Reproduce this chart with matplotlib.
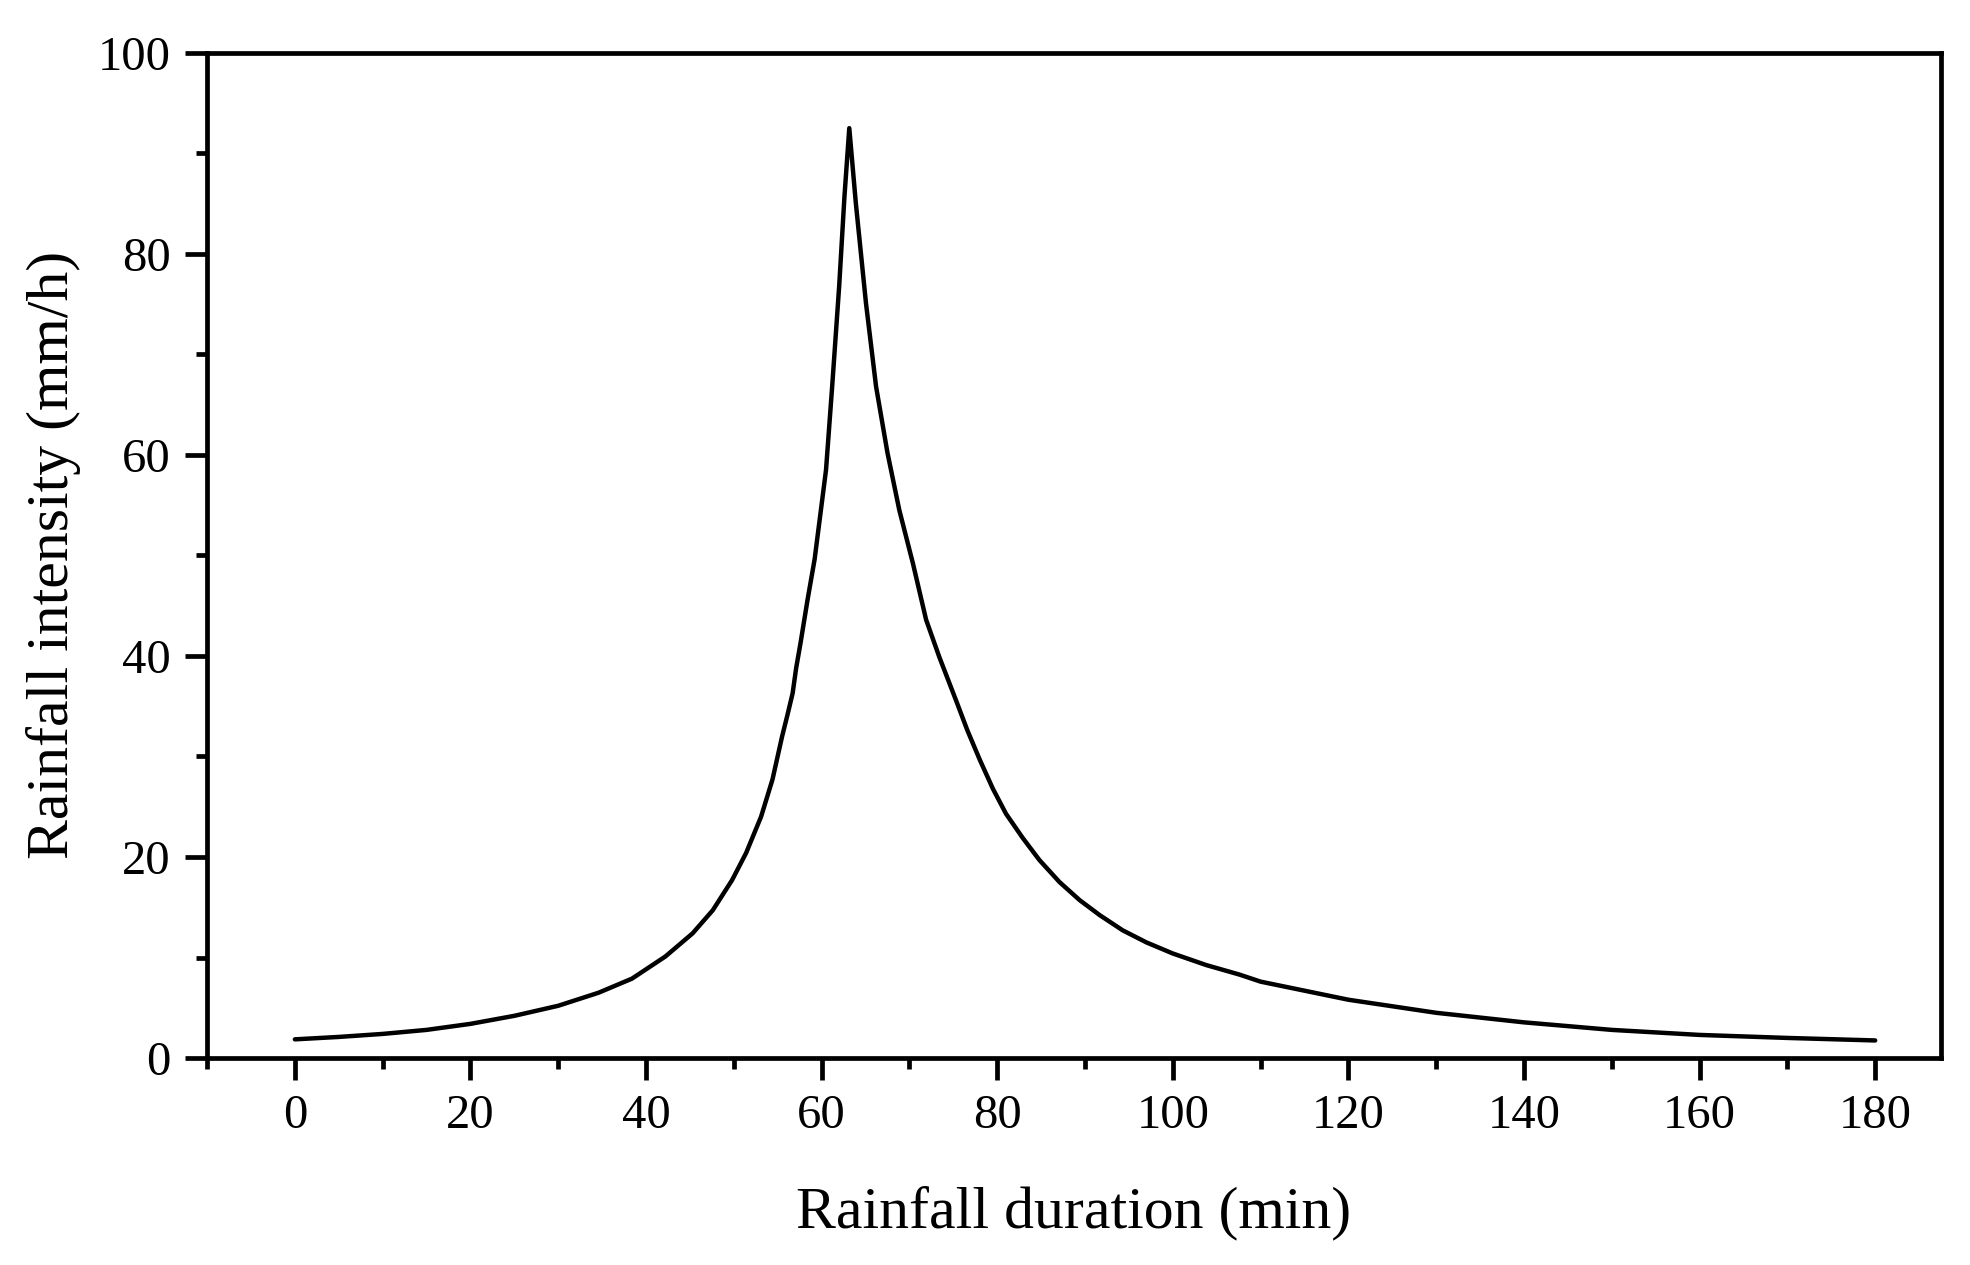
import matplotlib
matplotlib.use("Agg")
import matplotlib.pyplot as plt
from matplotlib.ticker import MultipleLocator

plt.rcParams['font.family'] = ['Liberation Serif', 'DejaVu Serif']

# Rainfall duration (min) and intensity (mm/h)
duration = [0, 5, 10, 15, 20, 25, 30, 34.6, 38.4, 42.2, 45.3, 47.6, 49.8, 51.4,
            53.1, 54.4, 55.5, 56.1, 56.7, 57.1, 57.6, 58.4, 59.2, 60.5, 61.2, 62.0, 62.6, 63.15,
            63.9, 65.05, 66.2, 67.5, 68.85, 70.4, 71.9, 73.4, 75.3, 76.6, 78.0, 79.5, 81.0,
            82.9, 84.8, 87.1, 89.4, 91.7, 94.3, 97.0, 100.0, 103.8, 107.6, 110, 120, 130,
            140, 150, 160, 170, 180]
intensity = [1.86, 2.1, 2.4, 2.8, 3.4, 4.2, 5.2, 6.5, 7.9, 10.1, 12.4, 14.7, 17.7, 20.4,
             24.0, 27.7, 32.0, 34.1, 36.3, 38.8, 41.3, 45.6, 49.6, 58.5, 66.8, 76.8, 85.7, 92.5,
             85.0, 75.1, 66.8, 60.2, 54.5, 49.2, 43.6, 39.9, 35.6, 32.6, 29.7, 26.8, 24.3,
             21.9, 19.7, 17.5, 15.7, 14.2, 12.7, 11.5, 10.4, 9.25, 8.3, 7.6, 5.8, 4.5,
             3.55, 2.8, 2.3, 2.0, 1.75]

x_label = "Rainfall duration (min)"
y_label = "Rainfall intensity (mm/h)"

fig = plt.figure(figsize=(19.7, 12.65), dpi=100)
ax = fig.add_axes([0.1051, 0.1636, 0.9853 - 0.1051, 0.9583 - 0.1636])

ax.plot(duration, intensity, color='black', linewidth=3.2,
        solid_capstyle='round', solid_joinstyle='round')

ax.set_xlim(-10, 187.5)
ax.set_ylim(0, 100)
ax.xaxis.set_major_locator(MultipleLocator(20))
ax.xaxis.set_minor_locator(MultipleLocator(10))
ax.yaxis.set_major_locator(MultipleLocator(20))
ax.yaxis.set_minor_locator(MultipleLocator(10))

for s in ax.spines.values():
    s.set_linewidth(3.4)

ax.tick_params(axis='both', which='major', direction='out', length=16, width=3.4,
               labelsize=35, pad=10, top=False, right=False)
ax.tick_params(axis='both', which='minor', direction='out', length=8, width=3.4,
               top=False, right=False)

ax.set_xlabel(x_label, fontsize=43, labelpad=34)
ax.set_ylabel(y_label, fontsize=43, labelpad=12)

fig.savefig("out.png", dpi=100, facecolor='white')
